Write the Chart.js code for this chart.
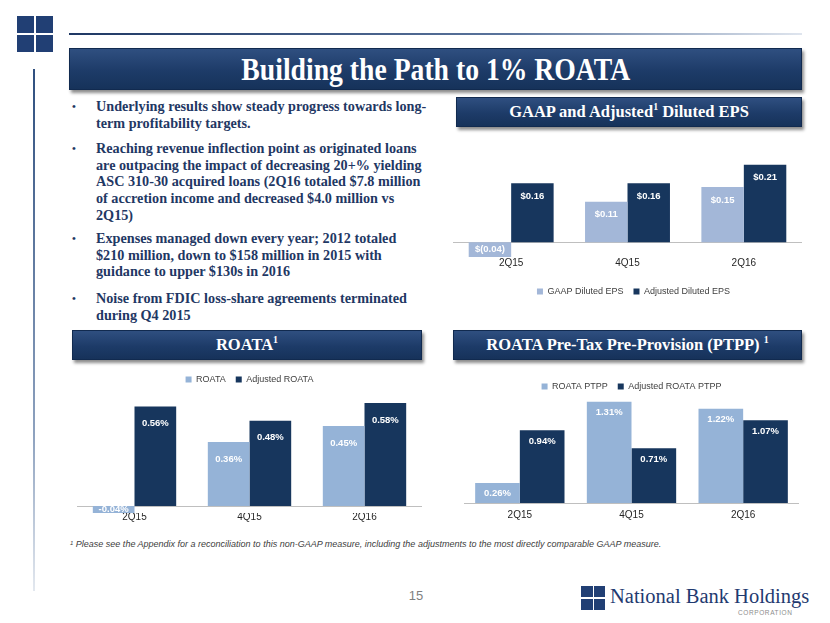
<!DOCTYPE html>
<html>
<head>
<meta charset="utf-8">
<script src="https://cdn.jsdelivr.net/npm/chart.js@4.4.0/dist/chart.umd.min.js"></script>
<style>
  html, body { margin: 0; padding: 0; background: #fff; }
  #slide { position: relative; width: 830px; height: 623px; overflow: hidden; font-family: "Liberation Sans", Arial, sans-serif; }
  .abs { position: absolute; }
  .sq { position: absolute; background: #213f74; }
  .bar {
    position: absolute; box-sizing: border-box;
    background: linear-gradient(#2f4f80, #1d3b68 55%, #16325a);
    border: 1px solid #112a4f;
    box-shadow: 2px 3px 3px rgba(0,0,0,0.45);
    color: #fff; font-family: "Liberation Serif", "Times New Roman", serif; font-weight: bold;
    display: flex; align-items: center; justify-content: center; white-space: nowrap;
  }
  .bar sup { font-size: 0.6em; position: relative; top: -0.7em; vertical-align: baseline; line-height: 0; }
  .bul { position: absolute; left: 96px; font-family: "Liberation Serif", "Times New Roman", serif; font-weight: bold;
         font-size: 14.2px; line-height: 16.7px; color: #1f3864; white-space: nowrap; }
  .bul::before { content: "\2022"; position: absolute; left: -24px; top: 0; font-size: 11px; }
  canvas { position: absolute; }
</style>
</head>
<body>
<div id="slide">
  <!-- corner mark -->
  <div class="sq" style="left:17px;top:16px;width:17px;height:17px"></div>
  <div class="sq" style="left:36px;top:16px;width:17px;height:17px"></div>
  <div class="sq" style="left:17px;top:35px;width:17px;height:17px"></div>
  <div class="sq" style="left:36px;top:35px;width:17px;height:17px"></div>
  <!-- rules -->
  <div class="abs" style="left:69px;top:33px;width:733px;height:2px;background:linear-gradient(90deg,#1f3864,#5a749c 60%,#dfe5ee)"></div>
  <div class="abs" style="left:33px;top:69px;width:2px;height:522px;background:linear-gradient(#2f4f7f,#8ea2bf 70%,#e3e8ef)"></div>

  <div class="bar" style="left:69px;top:48px;width:733px;height:42px;font-size:32px">
    <span style="display:inline-block;transform:scaleX(0.865)">Building the Path to 1% ROATA</span>
  </div>

  <div class="bul" style="top:98px">Underlying results show steady progress towards long-<br>term profitability targets.</div>
  <div class="bul" style="top:140px">Reaching revenue inflection point as originated loans<br>are outpacing the impact of decreasing 20+% yielding<br>ASC 310-30 acquired loans (2Q16 totaled $7.8 million<br>of accretion income and decreased $4.0 million vs<br>2Q15)</div>
  <div class="bul" style="top:230px">Expenses managed down every year; 2012 totaled<br>$210 million, down to $158 million in 2015 with<br>guidance to upper $130s in 2016</div>
  <div class="bul" style="top:290px">Noise from FDIC loss-share agreements terminated<br>during Q4 2015</div>

  <div class="bar" style="left:456px;top:97px;width:346px;height:30px;font-size:16.5px"><span>GAAP and Adjusted<sup>1</sup> Diluted EPS</span></div>
  <div class="bar" style="left:72px;top:330px;width:350px;height:30px;font-size:16.5px"><span>ROATA<sup>1</sup></span></div>
  <div class="bar" style="left:453px;top:330px;width:349px;height:30px;font-size:16.5px"><span>ROATA Pre-Tax Pre-Provision (PTPP)&nbsp;<sup>1</sup></span></div>

  <canvas id="epsChart" width="349" height="156" style="left:453px;top:150px"></canvas>
  <canvas id="roataChart" width="345" height="158" style="left:77px;top:365px"></canvas>
  <canvas id="ptppChart" width="335" height="149" style="left:464px;top:372px"></canvas>

  <div class="abs" style="left:70px;top:539px;font-size:9px;font-style:italic;color:#404040;white-space:nowrap"><span style="font-size:6px;vertical-align:2px">1</span> Please see the Appendix for a reconciliation to this non-GAAP measure, including the adjustments to the most directly comparable GAAP measure.</div>

  <div class="abs" style="left:400px;top:588px;width:32px;text-align:center;font-size:13px;color:#7f7f7f">15</div>

  <!-- bottom logo -->
  <div class="sq" style="left:581px;top:586px;width:11.5px;height:11px"></div>
  <div class="sq" style="left:593.5px;top:586px;width:11.5px;height:11px"></div>
  <div class="sq" style="left:581px;top:598.5px;width:11.5px;height:11px"></div>
  <div class="sq" style="left:593.5px;top:598.5px;width:11.5px;height:11px"></div>
  <div class="abs" style="left:610px;top:585px;font-family:'Liberation Serif','Times New Roman',serif;font-size:20.5px;line-height:22px;color:#1f3a70;white-space:nowrap">National Bank Holdings</div>
  <div class="abs" style="left:738px;top:609px;font-size:6.5px;letter-spacing:0.6px;color:#8c8c8c;white-space:nowrap">CORPORATION</div>
</div>

<script>
// Data
const quarters = ['2Q15', '4Q15', '2Q16'];
const gaapEps = [-0.04, 0.11, 0.15];
const adjustedEps = [0.16, 0.16, 0.21];
const roata = [-0.04, 0.36, 0.45];
const adjustedRoata = [0.56, 0.48, 0.58];
const roataPtpp = [0.26, 1.31, 1.22];
const adjustedRoataPtpp = [0.94, 0.71, 1.07];

const LIGHT = '#95b3d7';
const LIGHT_EPS = '#a3b7d8';
const DARK = '#17365d';

Chart.defaults.font.family = '"Liberation Sans", Arial, sans-serif';
Chart.defaults.color = '#404040';

// thin grey line at zero, like the category axis in the slide
const zeroLine = {
    id: 'zeroLine',
    beforeDatasetsDraw(chart) {
        const { ctx, chartArea, scales } = chart;
        const y = Math.round(scales.y.getPixelForValue(0)) + 0.5;
        ctx.save();
        ctx.strokeStyle = '#bfbfbf';
        ctx.lineWidth = 1;
        ctx.beginPath();
        ctx.moveTo(chartArea.left, y);
        ctx.lineTo(chartArea.right, y);
        ctx.stroke();
        ctx.restore();
    }
};

// white value labels inside the bar ends
const barLabels = {
    id: 'barLabels',
    afterDatasetsDraw(chart, args, opts) {
        const ctx = chart.ctx;
        ctx.save();
        ctx.font = 'bold 9.5px "Liberation Sans", Arial, sans-serif';
        ctx.fillStyle = '#ffffff';
        ctx.textAlign = 'center';
        ctx.textBaseline = 'middle';
        chart.data.datasets.forEach((ds, i) => {
            chart.getDatasetMeta(i).data.forEach((bar, j) => {
                const v = ds.data[j];
                const h = Math.abs(bar.base - bar.y);
                const off = Math.min(opts.offset, h / 2);
                const y = v >= 0 ? bar.y + off : bar.y - off;
                ctx.fillText(opts.format(v), bar.x, y);
            });
        });
        ctx.restore();
    }
};

// nudge a centred legend sideways (the EPS legend sits a little right of centre)
const legendShift = {
    id: 'legendShift',
    afterLayout(chart, args, opts) {
        if (opts.dx) chart.legend.left += 2 * opts.dx;
    }
};

const pct = v => v.toFixed(2) + '%';
const dollars = v => v < 0 ? '$(' + Math.abs(v).toFixed(2) + ')' : '$' + v.toFixed(2);

function makeChart(id, names, series, colors, cfg) {
    return new Chart(document.getElementById(id), {
        type: 'bar',
        data: {
            labels: quarters,
            datasets: series.map((s, i) => ({
                label: names[i],
                data: s,
                backgroundColor: colors[i],
                borderWidth: 0,
                categoryPercentage: cfg.catPct,
                barPercentage: 1.0
            }))
        },
        options: {
            responsive: false,
            animation: false,
            devicePixelRatio: 1,
            layout: { padding: 0 },
            plugins: {
                legend: {
                    position: cfg.legendPos,
                    labels: { boxWidth: 6, boxHeight: 6, padding: 10, font: { size: 9 }, color: '#404040' }
                },
                tooltip: { enabled: false },
                barLabels: { offset: cfg.labelOffset, format: cfg.format },
                legendShift: { dx: cfg.legendDx || 0 }
            },
            scales: {
                x: {
                    grid: { display: false, drawTicks: false },
                    border: { display: false },
                    ticks: { padding: cfg.tickPad, font: { size: 10 }, color: '#262626' },
                    afterFit: s => { s.height = cfg.axisHeight; }
                },
                y: { display: false, min: cfg.min, max: cfg.max }
            }
        },
        plugins: [zeroLine, barLabels, legendShift]
    });
}

makeChart('epsChart', ['GAAP Diluted EPS', 'Adjusted Diluted EPS'], [gaapEps, adjustedEps], [LIGHT_EPS, DARK],
    { catPct: 0.73, legendPos: 'bottom', min: -0.04, max: 0.25, tickPad: 0, axisHeight: 20, labelOffset: 13, format: dollars, legendDx: 6 });

makeChart('roataChart', ['ROATA', 'Adjusted ROATA'], [roata, adjustedRoata], [LIGHT, DARK],
    { catPct: 0.725, legendPos: 'top', min: -0.04, max: 0.63, tickPad: -2, axisHeight: 10, labelOffset: 17, format: pct });

makeChart('ptppChart', ['ROATA PTPP', 'Adjusted ROATA PTPP'], [roataPtpp, adjustedRoataPtpp], [LIGHT, DARK],
    { catPct: 0.80, legendPos: 'top', min: 0, max: 1.32, tickPad: 6, axisHeight: 18, labelOffset: 11, format: pct });
</script>
</body>
</html>
